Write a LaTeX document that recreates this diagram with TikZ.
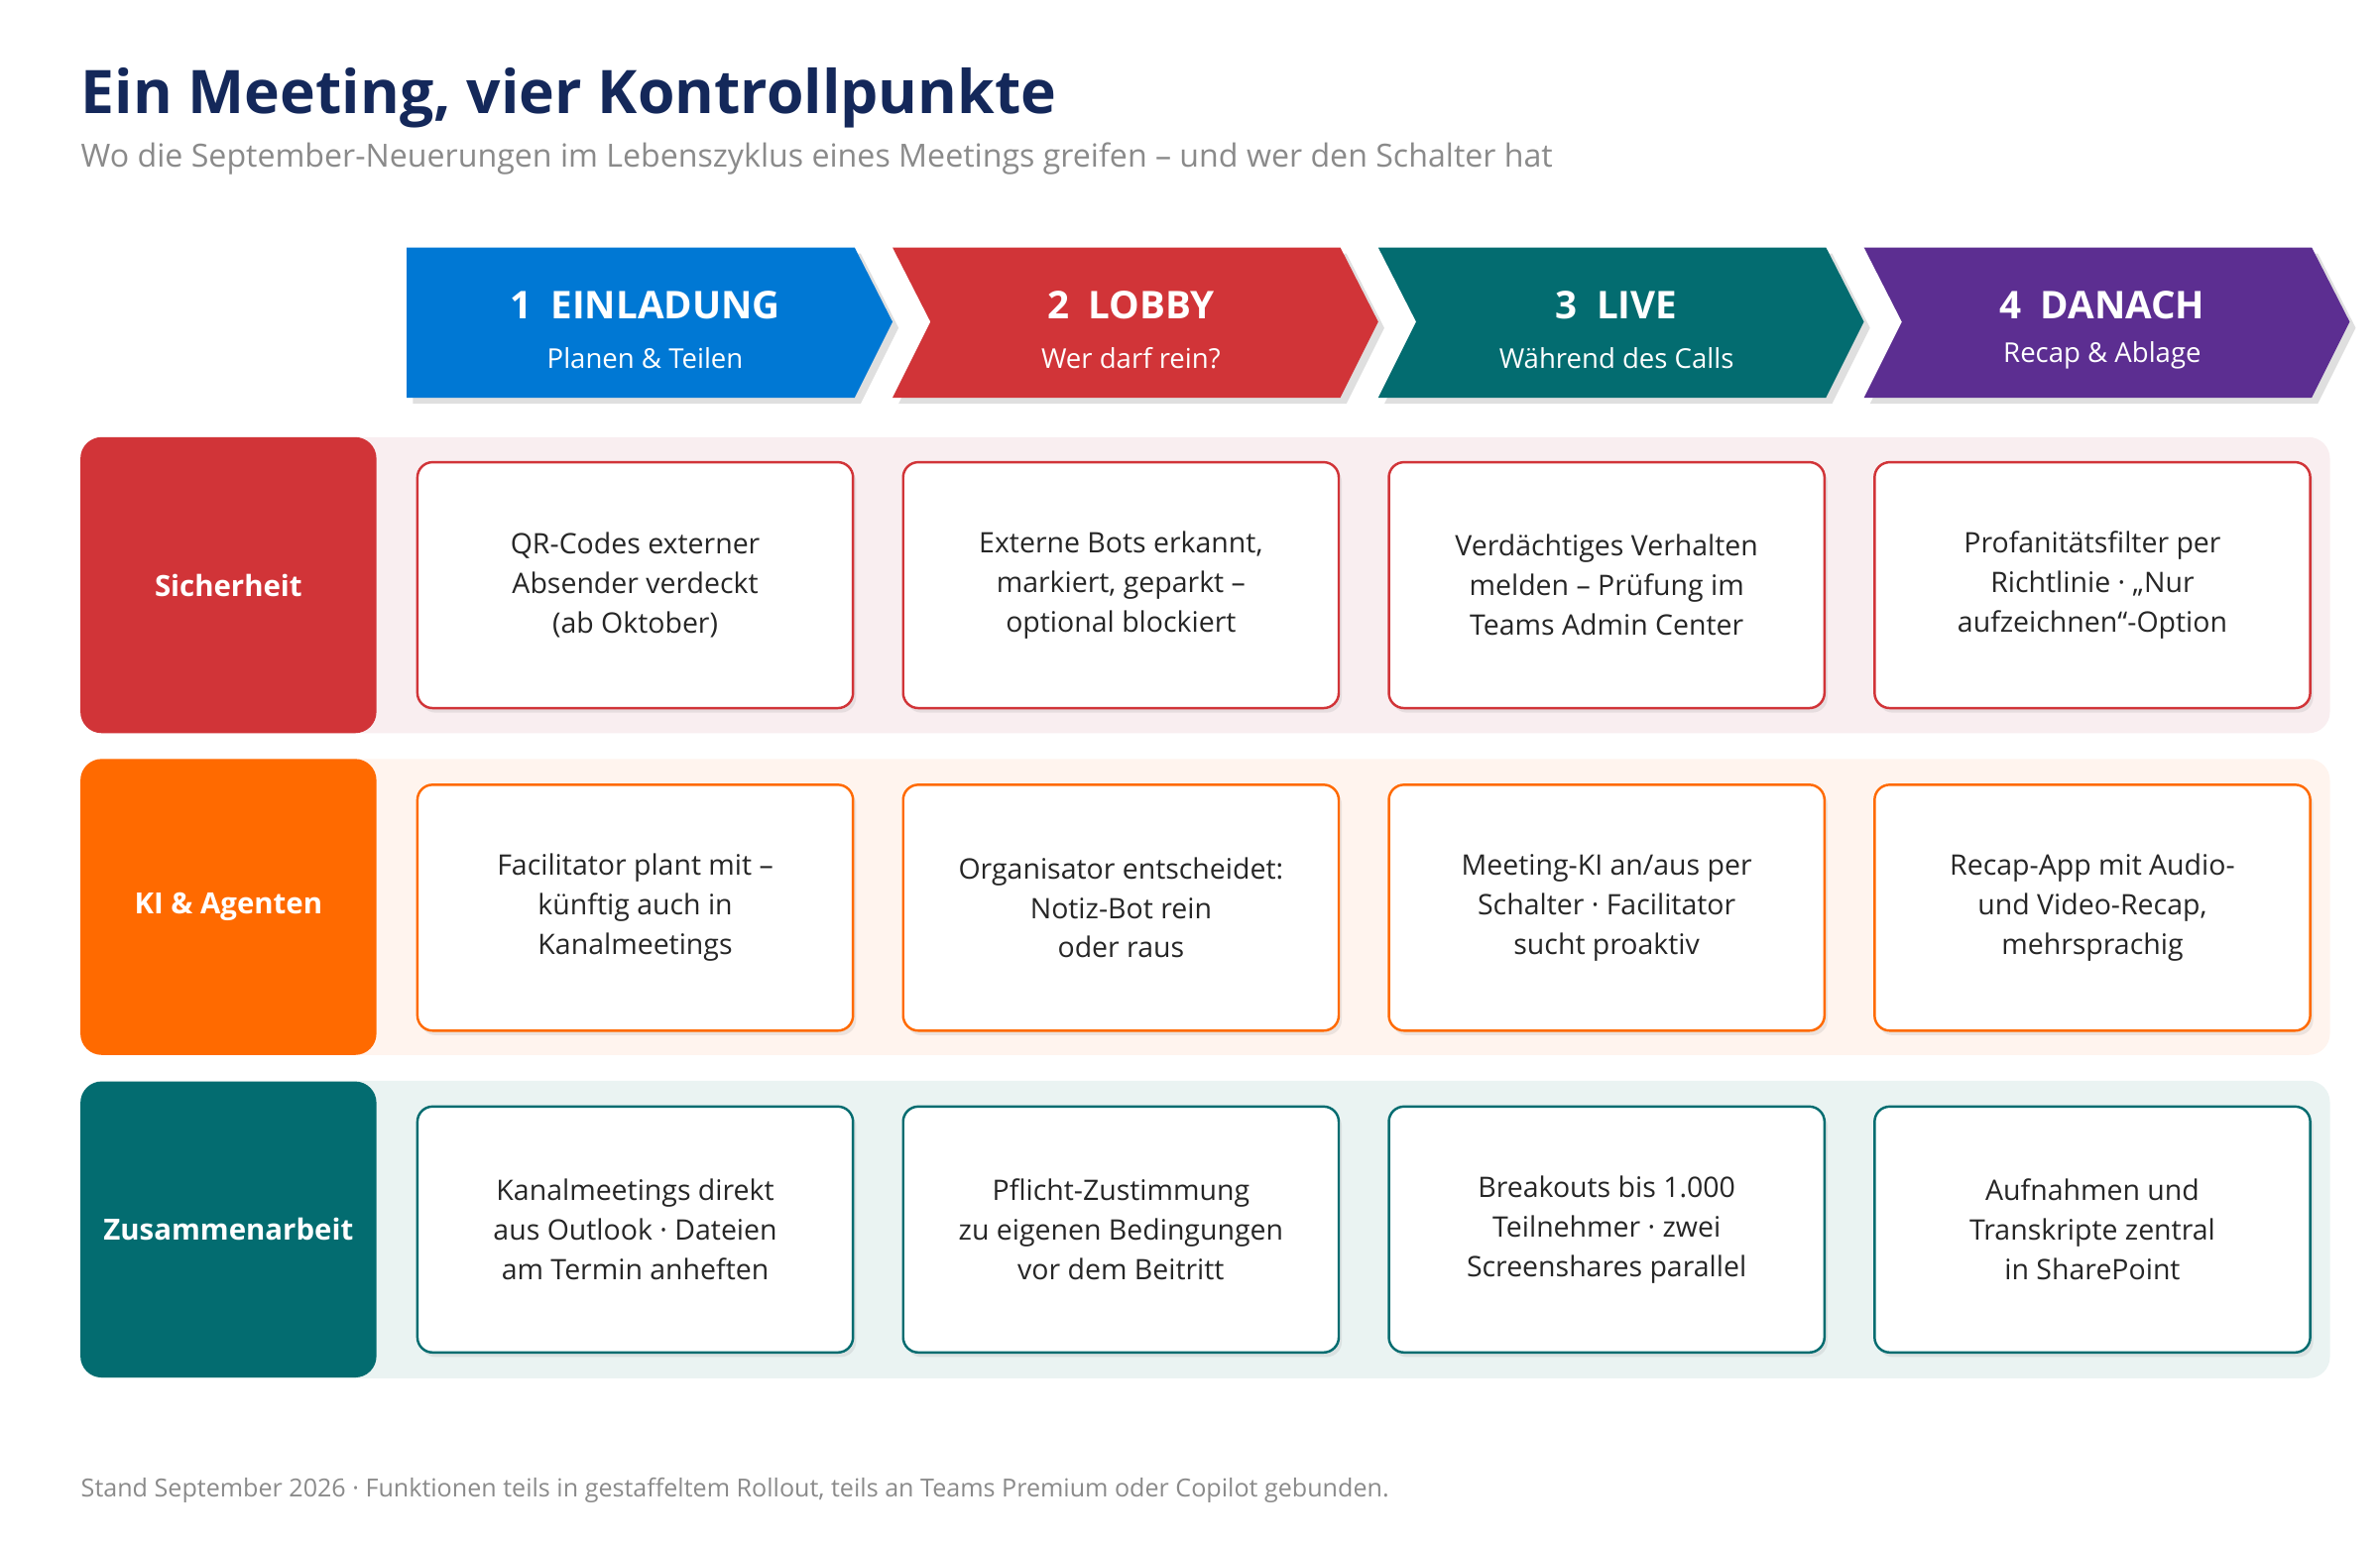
\documentclass[tikz,border=0pt]{standalone}
\usepackage{fontspec}
\setmainfont{Open Sans}
\usetikzlibrary{shadows}
\definecolor{cblue}{HTML}{0078D4}
\definecolor{cred}{HTML}{D13438}
\definecolor{cteal}{HTML}{036C70}
\definecolor{cpurple}{HTML}{5C2E91}
\definecolor{corange}{HTML}{FF6A00}
\definecolor{bgred}{HTML}{F9EEF0}
\definecolor{bgorange}{HTML}{FFF4EE}
\definecolor{bgteal}{HTML}{EAF3F2}
\definecolor{navy}{HTML}{14285A}
\definecolor{greytxt}{HTML}{8A8A8A}
\begin{document}
\begin{tikzpicture}[x=0.5pt,y=-0.5pt,
  chev/.style={draw=none,drop shadow={shadow xshift=2pt,shadow yshift=-2pt,opacity=0.25}},
  card/.style={draw=#1,line width=0.8pt,fill=white,rounded corners=5pt,minimum width=143.5pt,minimum height=81pt,align=center,font=\fontsize{9.3}{13}\selectfont,text=black!85,drop shadow={shadow xshift=1pt,shadow yshift=-1.5pt,opacity=0.15}},
  lab/.style={fill=#1,rounded corners=7pt,minimum width=97.5pt,minimum height=97.5pt,inner sep=0pt,text=white,font=\bfseries\fontsize{9.6}{12}\selectfont},
  band/.style={fill=#1,rounded corners=7pt,draw=none},
  ctitle/.style={text=white,font=\bfseries\fontsize{12.6}{15}\selectfont},
  csub/.style={text=white,font=\fontsize{9}{11}\selectfont}]
\useasboundingbox (0,0) rectangle (1568,1019);
\node[anchor=base west,inner sep=0,text=navy,font=\bfseries\fontsize{19.8}{24}\selectfont] (title) at (53,75) {Ein Meeting, vier Kontrollpunkte};
\node[anchor=base west,inner sep=0,text=greytxt,font=\fontsize{10.5}{13}\selectfont] (sub) at (53,110) {Wo die September-Neuerungen im Lebenszyklus eines Meetings greifen – und wer den Schalter hat};
% chevrons
\fill[cblue,chev] (268,163) -- (563,163) -- (588,212) -- (563,262) -- (268,262) -- cycle;
\fill[cred,chev] (588,163) -- (883,163) -- (908,212) -- (883,262) -- (588,262) -- (613,212) -- cycle;
\fill[cteal,chev] (908,163) -- (1203,163) -- (1228,212) -- (1203,262) -- (908,262) -- (933,212) -- cycle;
\fill[cpurple,chev] (1228,163) -- (1523,163) -- (1548,212) -- (1523,262) -- (1228,262) -- (1253,212) -- cycle;
\node[ctitle] (h1) at (425,201) {1\,\,\,EINLADUNG};
\node[csub] (s1) at (425,236) {Planen \& Teilen};
\node[ctitle] (h2) at (745,201) {2\,\,\,LOBBY};
\node[csub] (s2) at (745,236) {Wer darf rein?};
\node[ctitle] (h3) at (1065,201) {3\,\,\,LIVE};
\node[csub] (s3) at (1065,236) {Während des Calls};
\node[ctitle] (h4) at (1385,201) {4\,\,\,DANACH};
\node[csub] (s4) at (1385,234) {Recap \& Ablage};
% bands
\fill[band=bgred] (53,288) rectangle (1535,483);
\fill[band=bgorange] (53,500) rectangle (1535,695);
\fill[band=bgteal] (53,712) rectangle (1535,908);
\node[lab=cred] (l1) at (150.5,385.5) {Sicherheit};
\node[lab=corange] (l2) at (150.5,597.5) {KI \& Agenten};
\node[lab=cteal] (l3) at (150.5,810) {Zusammenarbeit};
% cards
\node[card=cred] (a1) at (418.5,385.5) {QR-Codes externer\\Absender verdeckt\\(ab Oktober)};
\node[card=cred] (a2) at (738.5,385.5) {Externe Bots erkannt,\\markiert, geparkt –\\optional blockiert};
\node[card=cred] (a3) at (1058.5,385.5) {Verdächtiges Verhalten\\melden – Prüfung im\\Teams Admin Center};
\node[card=cred] (a4) at (1378.5,385.5) {Profanitätsfilter per\\Richtlinie · „Nur\\aufzeichnen“-Option};
\node[card=corange] (b1) at (418.5,598) {Facilitator plant mit –\\künftig auch in\\Kanalmeetings};
\node[card=corange] (b2) at (738.5,598) {Organisator entscheidet:\\Notiz-Bot rein\\oder raus};
\node[card=corange] (b3) at (1058.5,598) {Meeting-KI an/aus per\\Schalter · Facilitator\\sucht proaktiv};
\node[card=corange] (b4) at (1378.5,598) {Recap-App mit Audio-\\und Video-Recap,\\mehrsprachig};
\node[card=cteal] (c1) at (418.5,810) {Kanalmeetings direkt\\aus Outlook · Dateien\\am Termin anheften};
\node[card=cteal] (c2) at (738.5,810) {Pflicht-Zustimmung\\zu eigenen Bedingungen\\vor dem Beitritt};
\node[card=cteal] (c3) at (1058.5,810) {Breakouts bis 1.000\\Teilnehmer · zwei\\Screenshares parallel};
\node[card=cteal] (c4) at (1378.5,810) {Aufnahmen und\\Transkripte zentral\\in SharePoint};
\node[anchor=base west,inner sep=0,text=greytxt,font=\fontsize{8.2}{10}\selectfont] (foot) at (53,986) {Stand September 2026 · Funktionen teils in gestaffeltem Rollout, teils an Teams Premium oder Copilot gebunden.};
\end{tikzpicture}
\end{document}
